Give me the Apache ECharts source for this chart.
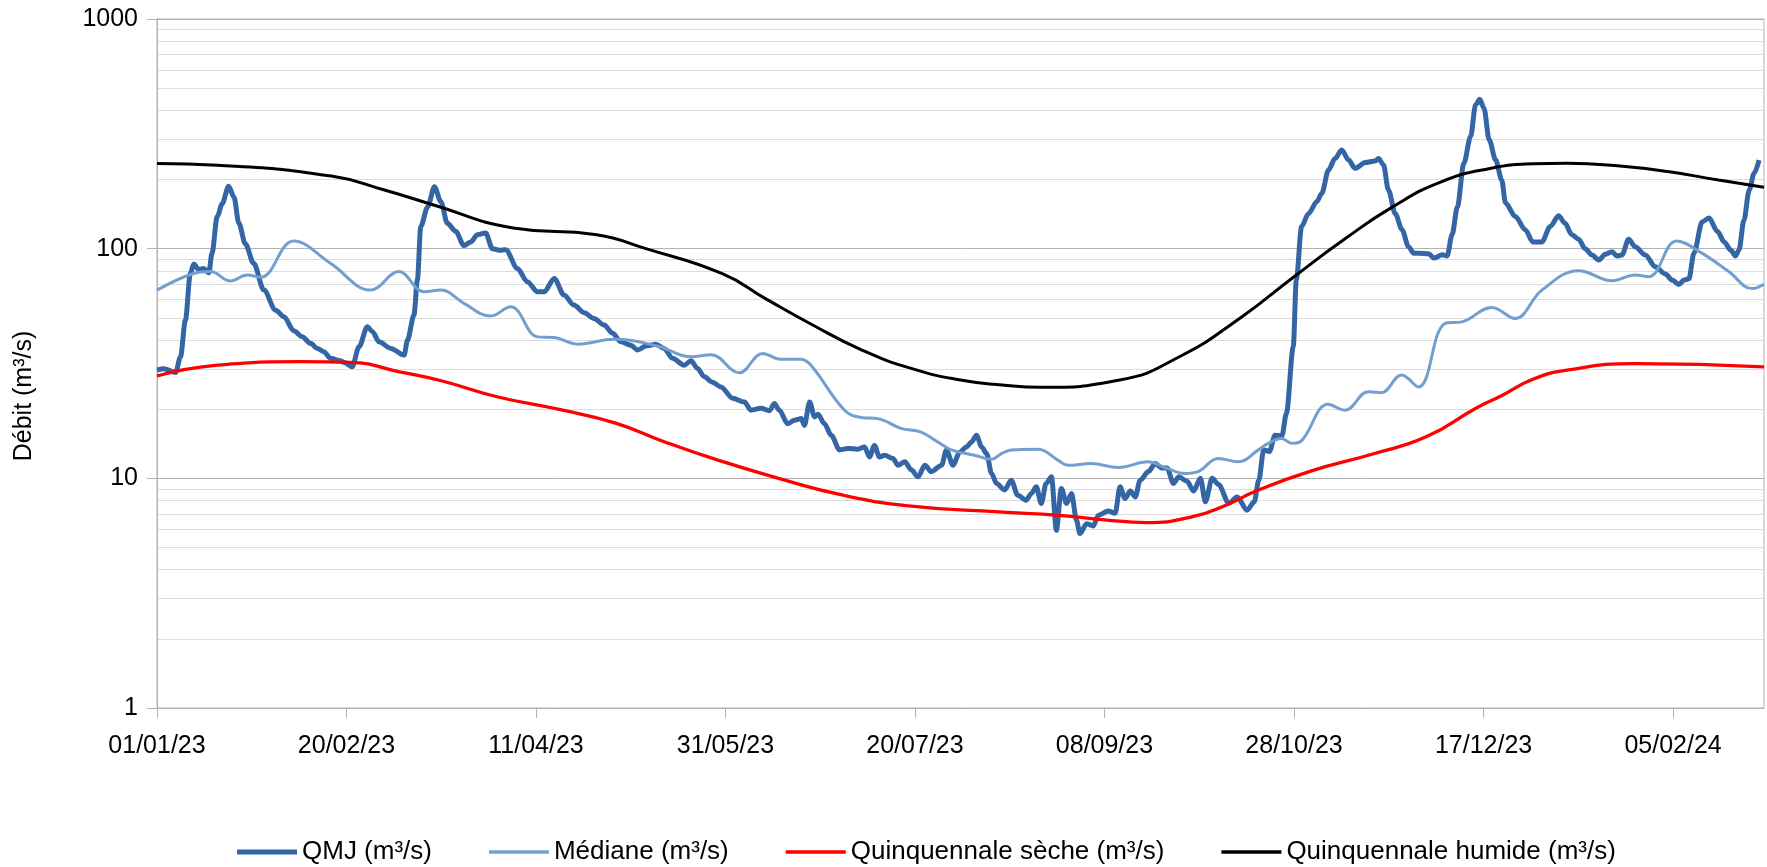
<!DOCTYPE html>
<html>
<head>
<meta charset="utf-8">
<title>Débit</title>
<script src="https://cdn.jsdelivr.net/npm/echarts@6/dist/echarts.min.js"></script>
<style>
  html, body { margin: 0; padding: 0; background: #fff; }
  #chart { width: 1767px; height: 867px; }
</style>
</head>
<body>
<div id="chart"></div>
<script>
// axe des x : jours depuis le 01/01/23
var xMax = 424;
var tickDays = [0, 50, 100, 150, 200, 250, 300, 350, 400];
var tickLabels = ['01/01/23', '20/02/23', '11/04/23', '31/05/23', '20/07/23', '08/09/23', '28/10/23', '17/12/23', '05/02/24'];

// QMJ (m³/s)
var qmjDays = [0, 1.8, 4.9, 6.2, 7.5, 8.8, 9.7, 11, 12.3, 13.7, 14.5, 15.9, 17.2, 18.9, 20.3, 21.6, 23.3, 25.5, 28.2, 31.3,
  33.5, 36.1, 38.3, 40.5, 42.3, 44, 45.8, 48.4, 49.3, 51.5, 53.3, 55.5, 56.8, 58.6, 61.7, 65.2, 66.1, 67.8, 68.7, 69.6,
  71.4, 73.2, 74.9, 76.6, 78.8, 81, 82.8, 84.5, 86.7, 88.5, 90.3, 92, 95.1, 97.7, 100.4, 102.2, 104.8, 107.4, 110, 112.7,
  115.3, 118, 120.2, 122.4, 125, 126.8, 129, 131.6, 133.8, 136, 139.1, 140.9, 142.6, 144.4, 146.4, 148.8, 151.9, 155, 156.7, 159.4,
  161.6, 162.9, 164.2, 166.4, 168.2, 170, 170.8, 172.2, 173.5, 174.4, 176.1, 177.9, 180.1, 182.3, 184.9, 186.7, 188, 189.3, 190.6, 192,
  194.2, 195.5, 197.3, 199, 200.8, 202.6, 204.3, 207, 208.3, 210, 211.8, 213.6, 214.9, 216.2, 217.6, 218.9, 220.2, 221.5, 223.6, 225.4,
  227.1, 229.3, 230.7, 232, 233.3, 234.6, 236, 237.3, 238.6, 240, 241.3, 242.6, 243.5, 245.3, 247, 248.4, 251, 252.8, 254.1, 255.4,
  256.8, 258.1, 259.4, 261.6, 263.4, 265.1, 266.5, 268.2, 269.6, 271.8, 273.5, 275.3, 276.6, 278.4, 280.1, 282.8, 285, 287.6, 289.5, 290.7,
  292, 293.5, 295, 296.8, 298, 299.8, 300.6, 302, 303.8, 306, 307.3, 309.1, 310.8, 312.6, 314.4, 316.1, 318.8, 321.4, 322.3, 323.6,
  324.9, 326.7, 328.5, 330.2, 331.6, 332.9, 335.5, 336.9, 339.1, 340.4, 341.7, 343.1, 344.8, 346.6, 347.9, 349, 350.1, 351.5, 353.2, 354.8,
  355.8, 358.4, 361, 363, 365.4, 367.6, 369.8, 371.5, 373.3, 375.1, 376.8, 378.6, 380.4, 382.1, 383.9, 385.2, 386.5, 388.3, 390, 392.7,
  395.3, 398, 399.8, 401.5, 402.9, 404.2, 405.5, 407.7, 409.5, 411.7, 413.5, 415.2, 416.5, 417.4, 418.7, 420.1, 421.4, 422.7];
var qmjValues = [29.6, 30, 28.9, 33.8, 48.9, 78, 85.8, 81, 82, 78.5, 95.4, 138, 157, 187, 168, 129, 105, 86.3, 66, 54,
  50.5, 43.9, 41.4, 38.7, 36.8, 35.6, 33.3, 32.5, 32, 30.6, 37.4, 45.7, 43.6, 39.3, 36.8, 34.4, 40, 51.4, 73, 125,
  152, 186, 160, 129, 119, 103, 107, 115, 117, 100, 98.4, 99, 82, 71.8, 65, 65, 74.2, 62.8, 56.8, 52.6,
  49.7, 46.5, 42.8, 39.3, 38, 36.2, 37.7, 38.4, 36.8, 33.3, 31.1, 32.5, 30.1, 27.7, 26.3, 25, 22.3, 21.5, 19.8, 20.2,
  19.7, 21.2, 19.8, 17.3, 17.9, 18.2, 17, 21.5, 18.5, 19, 17.3, 15.4, 13.3, 13.5, 13.4, 13.7, 12.4, 13.9, 12.4, 12.6,
  12.2, 11.4, 11.8, 10.9, 10.15, 11.4, 10.7, 11.4, 13.3, 11.4, 13, 13.7, 14.4, 15.4, 13.7, 12.8, 10.5, 9.5, 8.9, 9.8,
  8.45, 8.03, 8.6, 9.18, 7.77, 9.5, 10.15, 5.94, 9.03, 7.77, 8.6, 6.57, 5.75, 6.35, 6.2, 6.91, 7.2, 7.05, 9.18, 8.17,
  8.8, 8.3, 9.8, 10.7, 11.6, 11.1, 11.1, 9.5, 10.15, 9.7, 8.8, 10, 7.9, 10, 9.4, 7.77, 8.3, 7.27, 7.9, 9.8,
  13.3, 13.1, 15.4, 15.3, 19.2, 37.4, 73, 125, 142, 160, 174, 220, 247, 269, 243, 224, 237, 241, 247, 232,
  180, 142, 121, 102, 95.4, 95.4, 95, 91, 94, 93, 115, 152, 235, 308, 423, 447, 410, 298, 243, 199,
  158, 138, 121, 107, 107, 125, 139, 129, 115, 110, 100, 93.8, 89.2, 94.5, 97, 93, 93.8, 110, 102, 93.8,
  83.5, 77.5, 73, 69.8, 73, 74, 95.4, 131, 136, 119, 107, 98.7, 93, 98.7, 133, 180, 213, 243];

// Médiane (m³/s)
var medDays = [0, 9.7, 14.1, 19.4, 23.8, 27.3, 36.1, 45.8, 56.4, 63.8, 70.4, 74.9, 81, 88, 93.3, 100.4, 104.8, 111, 120.6, 132,
  140.9, 146.2, 153.6, 159.8, 164.6, 169.9, 172.6, 181.4, 185.8, 190.2, 196.3, 201.6, 206, 209.6, 215.7, 220.1, 222.8, 225.4, 232.5, 237.7,
  240.4, 246.5, 253.6, 261.5, 265.9, 271.2, 274.7, 280, 285.3, 290.6, 293.2, 296.7, 299.4, 302, 309, 313.4, 319.6, 323, 328.4, 332.8,
  339.9, 344.3, 352.2, 358.3, 365.4, 375.1, 383.9, 390, 393.6, 401, 407.7, 414.7, 420.9, 424];
var medValues = [66, 78, 79.5, 72.3, 76.8, 75, 108, 86.3, 66, 79.5, 65, 66, 57.8, 50.9, 55.8, 41.3, 41, 38.4, 40.3, 37.7,
  33.8, 34.5, 28.8, 35, 33, 33, 31, 19.8, 18.4, 18.2, 16.5, 15.9, 14.4, 13.3, 12.6, 12.1, 12.8, 13.3, 13.4, 12,
  11.4, 11.6, 11.15, 11.8, 11.15, 10.5, 10.7, 12.2, 11.8, 13.3, 14.2, 14.9, 14.2, 14.6, 21, 19.8, 23.8, 23.6, 28.2, 25,
  47.3, 48, 55.5, 49.7, 66, 80.2, 72.5, 76.8, 75.5, 108, 95.4, 79.5, 67, 70];

// Quinquennale sèche (m³/s)
var secheDays = [0, 16, 38, 51, 64, 75, 90, 107, 121, 134, 148, 164, 181, 199, 222, 238, 250, 261, 273, 282,
  290, 304, 321, 335, 348, 355, 363, 372, 390, 424];
var secheValues = [27.9, 31.1, 32.2, 32, 29.1, 26.6, 22.6, 19.8, 17.4, 14.4, 12, 10, 8.45, 7.57, 7.14, 6.9, 6.6, 6.42, 6.79, 7.64,
  8.8, 10.7, 12.8, 15.2, 20.2, 23, 27, 29.6, 31.6, 30.6];

// Quinquennale humide (m³/s)
var humideDays = [0, 16, 46, 60, 73, 94, 116, 129, 149, 161, 173, 186, 199, 212, 223, 233, 254, 270, 286, 300,
  313, 326, 339, 352, 363, 372, 386, 399, 412, 424];
var humideValues = [235, 231, 207, 180, 155, 123, 115, 100, 78, 60, 46.5, 36.2, 30.1, 26.8, 25.5, 24.9, 26.8, 34, 50.2, 75.5,
  109, 152, 196, 224, 234, 235.5, 229, 216, 199, 185];

function pairs(days, values) {
  return days.map(function (d, i) { return [d, values[i]]; });
}

var font = 'Liberation Sans';
var chart = echarts.init(document.getElementById('chart'), null, { renderer: 'canvas' });

chart.setOption({
  animation: false,
  backgroundColor: '#ffffff',
  grid: {
    left: 157, right: 3, top: 19, bottom: 159,
    show: true, borderColor: '#b3b3b3', borderWidth: 1,
    outerBoundsMode: 'none'
  },
  legend: {
    left: 232, top: 834,
    itemWidth: 60, itemHeight: 14, itemGap: 57,
    textStyle: { fontFamily: font, fontSize: 26, color: '#000' },
    data: [
      { name: 'QMJ (m³/s)', icon: 'path://M0 0H120V10H0Z' },
      { name: 'Médiane (m³/s)', icon: 'path://M0 0H120V7H0Z' },
      { name: 'Quinquennale sèche (m³/s)', icon: 'path://M0 0H120V7H0Z' },
      { name: 'Quinquennale humide (m³/s)', icon: 'path://M0 0H120V7H0Z' }
    ]
  },
  graphic: [{
    type: 'text',
    x: 24, y: 396,
    rotation: Math.PI / 2,
    style: {
      text: 'Débit (m³/s)',
      font: '25px "Liberation Sans"',
      fill: '#000',
      align: 'center',
      verticalAlign: 'middle'
    }
  }],
  xAxis: {
    type: 'value',
    min: 0, max: xMax,
    splitLine: { show: false },
    axisLine: { lineStyle: { color: '#b3b3b3', width: 1 } },
    axisTick: { show: true, length: 10, lineStyle: { color: '#b3b3b3' }, customValues: tickDays },
    axisLabel: {
      customValues: tickDays,
      margin: 26,
      fontFamily: font, fontSize: 25, color: '#000',
      formatter: function (v) {
        var i = tickDays.indexOf(v);
        return i >= 0 ? tickLabels[i] : '';
      }
    }
  },
  yAxis: {
    type: 'log',
    logBase: 10,
    min: 1, max: 1000,
    axisLine: { show: true, lineStyle: { color: '#b3b3b3', width: 1 } },
    axisTick: { show: true, length: 10, lineStyle: { color: '#b3b3b3' } },
    axisLabel: {
      margin: 19, fontFamily: font, fontSize: 25, color: '#000',
      formatter: function (v) { return String(Math.round(v)); }
    },
    splitLine: { show: true, lineStyle: { color: '#b3b3b3', width: 1 } },
    minorTick: { show: false, splitNumber: 9 },
    minorSplitLine: { show: true, lineStyle: { color: '#dddddd', width: 1 } }
  },
  series: [
    {
      name: 'QMJ (m³/s)', type: 'line',
      data: pairs(qmjDays, qmjValues),
      showSymbol: false, symbol: 'none',
      smooth: 0.3, smoothMonotone: 'x',
      lineStyle: { color: '#3465a4', width: 5 },
      itemStyle: { color: '#3465a4' }
    },
    {
      name: 'Médiane (m³/s)', type: 'line',
      data: pairs(medDays, medValues),
      showSymbol: false, symbol: 'none',
      smooth: 0.4,
      lineStyle: { color: '#729fcf', width: 3 },
      itemStyle: { color: '#729fcf' }
    },
    {
      name: 'Quinquennale sèche (m³/s)', type: 'line',
      data: pairs(secheDays, secheValues),
      showSymbol: false, symbol: 'none',
      smooth: 0.5,
      lineStyle: { color: '#ff0000', width: 3.3 },
      itemStyle: { color: '#ff0000' }
    },
    {
      name: 'Quinquennale humide (m³/s)', type: 'line',
      data: pairs(humideDays, humideValues),
      showSymbol: false, symbol: 'none',
      smooth: 0.5,
      lineStyle: { color: '#000000', width: 3 },
      itemStyle: { color: '#000000' }
    }
  ]
});
</script>
</body>
</html>
